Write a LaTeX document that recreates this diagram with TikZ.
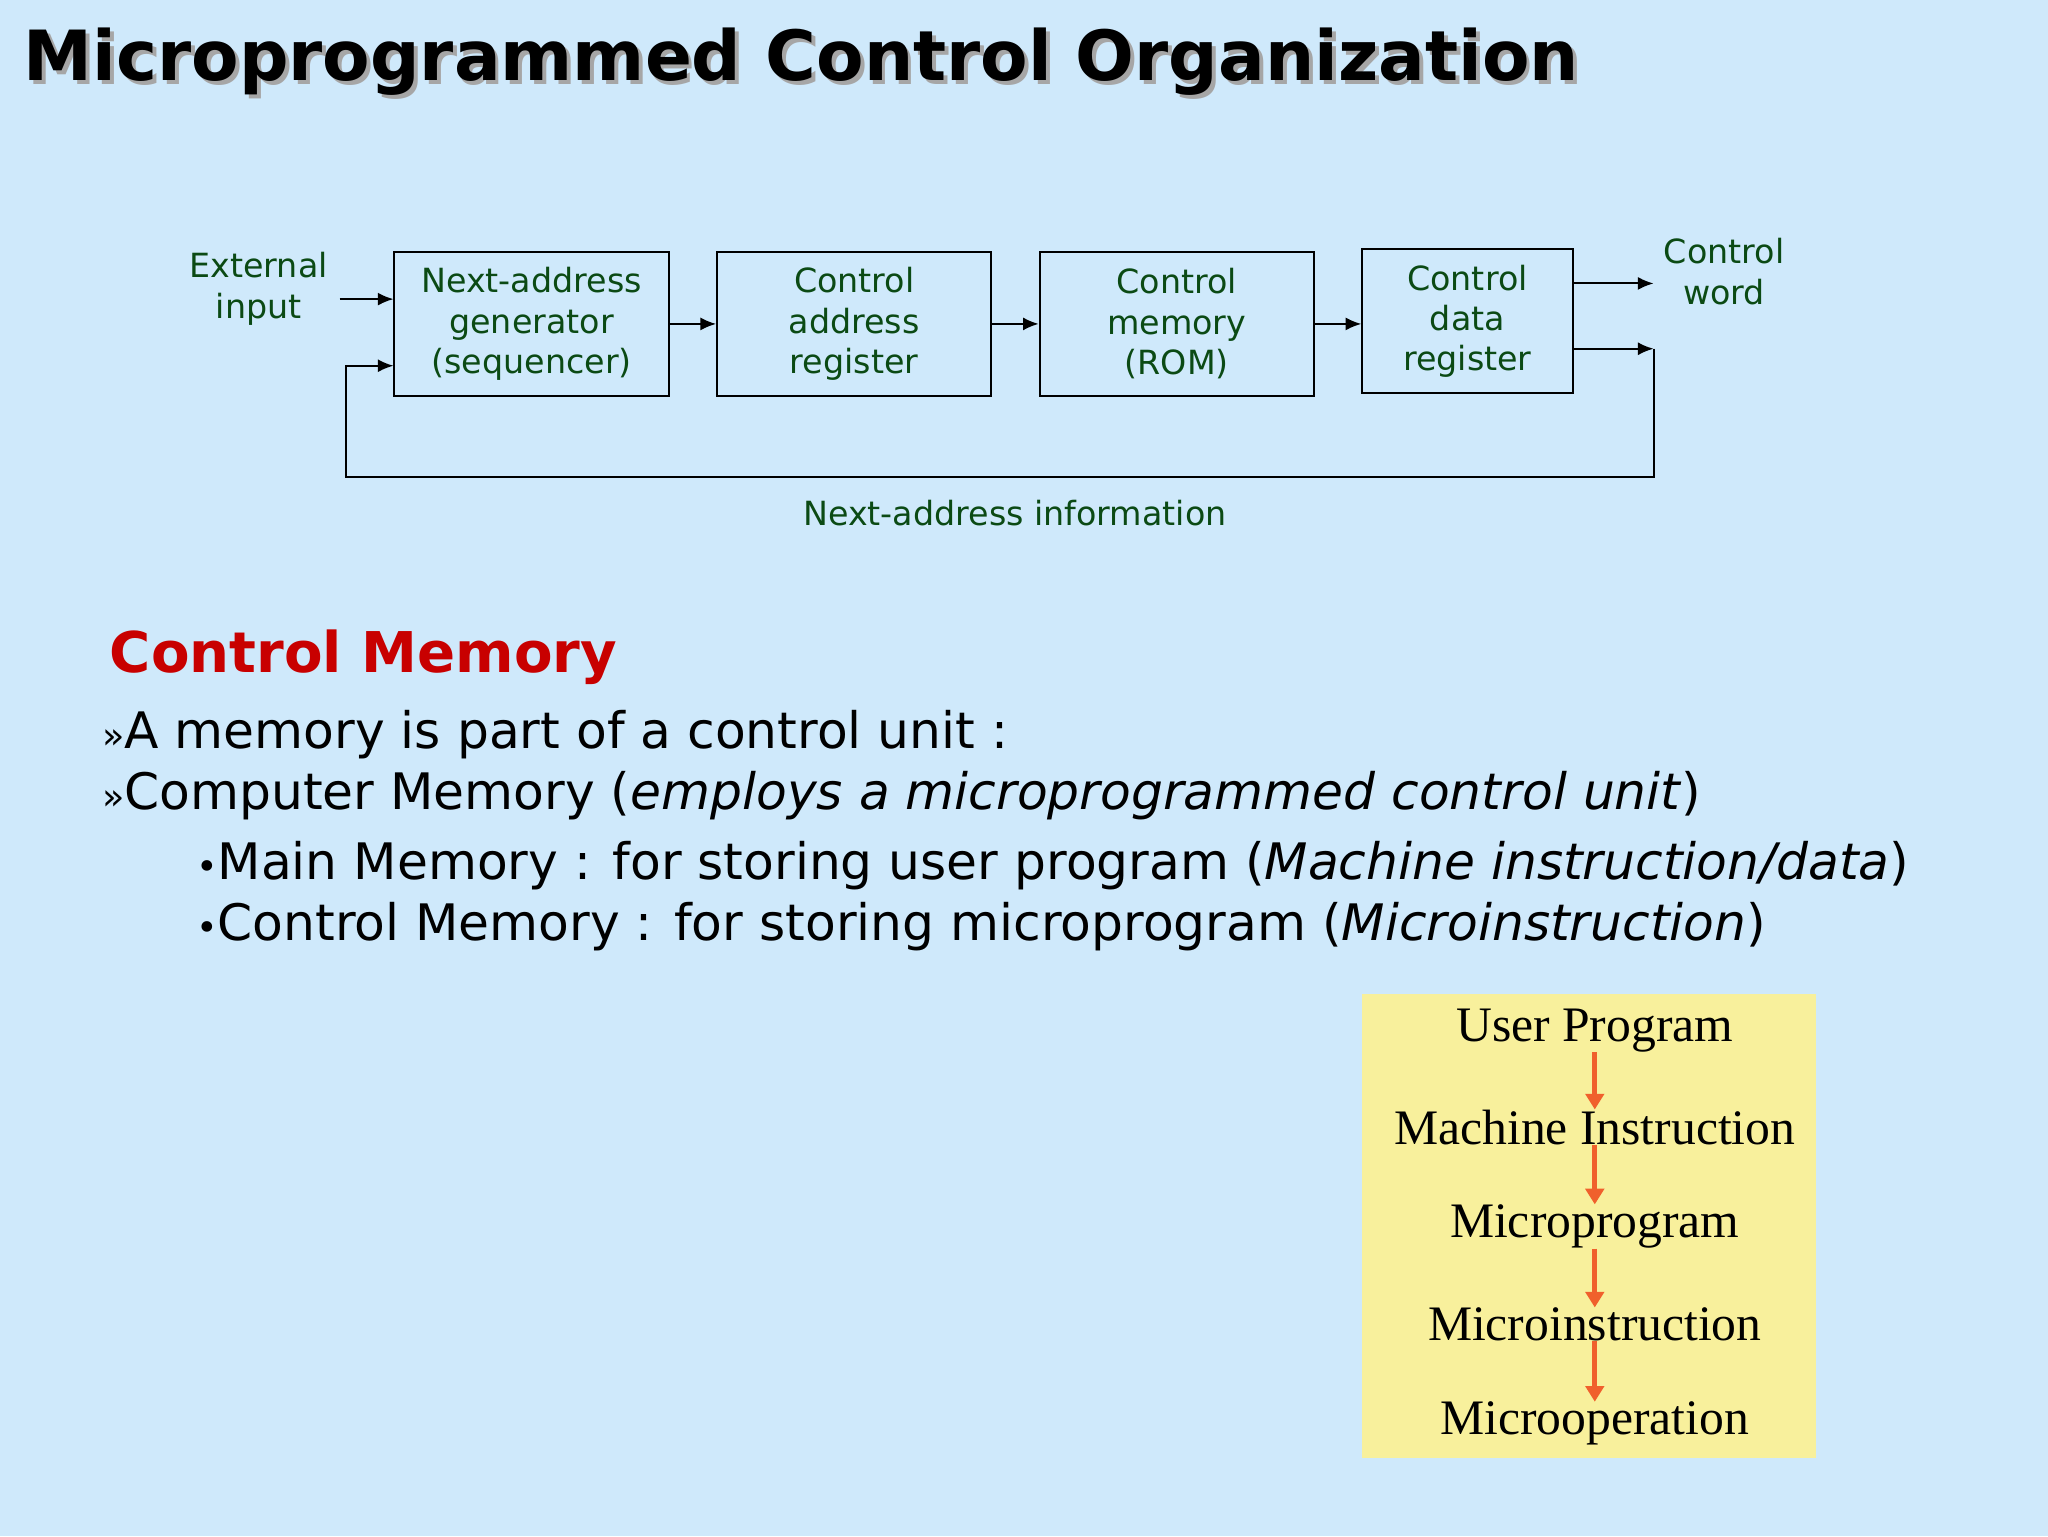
\documentclass[tikz,border=0pt]{standalone}
\usepackage{fontspec}
\setmainfont{DejaVu Sans}
\newfontfamily\seriffont{Liberation Serif}
\usetikzlibrary{arrows.meta}
\definecolor{bg}{HTML}{CFE9FB}
\definecolor{dg}{HTML}{0B4A14}
\definecolor{yel}{HTML}{F8F09C}
\definecolor{org}{HTML}{F0602C}
\definecolor{red}{HTML}{C80000}
\begin{document}
\begin{tikzpicture}[x=1pt,y=-1pt,
  blk/.style={draw=black,line width=1.5pt,minimum width=210pt,minimum height=110pt,align=center,text=dg,font=\fontsize{25.5}{31}\selectfont,inner sep=0pt},
  lbl/.style={align=center,text=dg,font=\fontsize{25.5}{31}\selectfont},
  arr/.style={line width=1.5pt,-{Latex[length=12pt,width=10pt]}},
  body/.style={anchor=base west,font=\fontsize{38.5}{42}\selectfont,inner sep=0pt},
  ser/.style={font=\seriffont\fontsize{38}{40}\selectfont,inner sep=0pt},
  oa/.style={draw=org,line width=4pt,-{Triangle[length=12pt,width=14pt]}}]
\fill[bg] (0,0) rectangle (1568,1176);
\node[anchor=base west,inner sep=0pt,font=\bfseries\fontsize{53}{56}\selectfont,text=black!35] at (21,65) {Microprogrammed Control Organization};
\node[anchor=base west,inner sep=0pt,font=\bfseries\fontsize{53}{56}\selectfont] (title) at (18,62) {Microprogrammed Control Organization};
\node[blk] (b1) at (407,248) {Next-address\\generator\\(sequencer)};
\node[blk] (b2) at (654,248) {Control\\address\\register};
\node[blk] (b3) at (901,248) {Control\\memory\\(ROM)};
\node[blk,minimum width=161pt] (b4) at (1123.5,246) {Control\\data\\register};
\node[lbl] (ext) at (198,221) {External\\input};
\node[lbl] (cw) at (1320,208) {Control\\word};
\node[lbl] (nai) at (777,393) {Next-address information};
\coordinate (e0) at (260,229);
\coordinate (c1) at (1266,217);
\coordinate (f1) at (1266,267);
\coordinate (f2) at (1266,365);
\coordinate (f3) at (265,365);
\coordinate (f4) at (265,280);
\draw[arr] (e0) -- (e0 -| b1.west);
\draw[arr] (b1.east) -- (b2.west);
\draw[arr] (b2.east) -- (b3.west);
\draw[arr] (b3.east) -- (b3.east -| b4.west);
\draw[arr] (c1 -| b4.east) -- (c1);
\draw[arr] (f1 -| b4.east) -- (f1);
\draw[arr] (f1) -- (f2) -- (f3) -- (f4) -- (f4 -| b1.west);
\node[anchor=base west,inner sep=0pt,text=red,font=\bfseries\fontsize{43}{46}\selectfont] (cm) at (84,515) {Control Memory};
\node[body] (l1) at (78,573) {{\fontsize{28}{30}\selectfont»}A memory is part of a control unit :};
\node[body] (l2) at (78,620) {{\fontsize{28}{30}\selectfont»}Computer Memory (\textit{employs a microprogrammed control unit})};
\node[body] (l3) at (150,673) {{\fontsize{28}{30}\selectfont•}Main Memory : for storing user program (\textit{Machine instruction/data})};
\node[body] (l4) at (150,720) {{\fontsize{28}{30}\selectfont•}Control Memory : for storing microprogram (\textit{Microinstruction})};
\fill[yel] (1043,761) rectangle (1390,1116);
\node[ser] (y1) at (1221,789) {User Program};
\node[ser] (y2) at (1221,863) {Machine Instruction};
\node[ser] (y3) at (1221,939) {Microprogram};
\node[ser] (y4) at (1221,1014) {Microinstruction};
\node[ser] (y5) at (1221,1090) {Microoperation};
\draw[oa] (y1.south) -- (y2.north);
\draw[oa] (y2.south) -- (y3.north);
\draw[oa] (y3.south) -- (y4.north);
\draw[oa] (y4.south) -- (y5.north);
\end{tikzpicture}
\end{document}
